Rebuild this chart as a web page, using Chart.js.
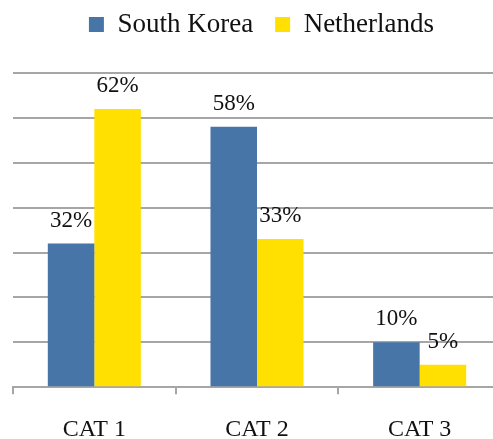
<!DOCTYPE html>
<html lang="en">
<head>
  <meta charset="UTF-8">
  <title>South Korea vs Netherlands</title>
  <script src="https://cdn.jsdelivr.net/npm/chart.js"></script>
  <style>
    html, body { margin: 0; padding: 0; background: #fff; overflow: hidden; }
    #wrap { position: relative; width: 502px; height: 478px; margin-top: -13px; }
  </style>
</head>
<body>
  <div id="wrap"><canvas id="barChart"></canvas></div>

  <script>
    const categories = ["CAT 1", "CAT 2", "CAT 3"];
    const southKorea = [32, 58, 10];
    const netherlands = [62, 33, 5];

    const serif = "'Liberation Serif', 'Times New Roman', serif";
    const gridColor = '#a6a6a6';

    // percent label above every bar
    const barLabels = {
      id: 'barLabels',
      afterDatasetsDraw(chart) {
        const ctx = chart.ctx;
        ctx.save();
        ctx.font = '23px ' + serif;
        ctx.fillStyle = '#111';
        ctx.textAlign = 'center';
        ctx.textBaseline = 'alphabetic';
        chart.data.datasets.forEach((ds, i) => {
          chart.getDatasetMeta(i).data.forEach((bar, j) => {
            ctx.fillText(ds.data[j] + '%', bar.x, bar.y - 17);
          });
        });
        ctx.restore();
      }
    };

    // extra room between the legend and the plot, legend nudged right a bit
    const legendSpacer = {
      id: 'legendSpacer',
      beforeInit(chart) {
        const fit = chart.legend.fit;
        chart.legend.fit = function () {
          fit.call(this);
          this.height += 25;
        };
      },
      afterLayout(chart) {
        chart.legend.left += 9;
      }
    };

    const ctx = document.getElementById('barChart').getContext('2d');
    new Chart(ctx, {
      type: 'bar',
      data: {
        labels: categories,
        datasets: [
          { label: 'South Korea', data: southKorea, backgroundColor: '#4775a7' },
          { label: 'Netherlands', data: netherlands, backgroundColor: '#ffe000' }
        ]
      },
      options: {
        responsive: true,
        maintainAspectRatio: false,
        animation: false,
        categoryPercentage: 0.572,
        barPercentage: 1.0,
        layout: { padding: { left: 13, right: 1, top: 2, bottom: 0 } },
        plugins: {
          tooltip: { enabled: false },
          legend: {
            position: 'top',
            labels: {
              boxWidth: 15,
              boxHeight: 15,
              padding: 22,
              color: '#111',
              font: { family: serif, size: 27 }
            }
          }
        },
        scales: {
          x: {
            grid: {
              drawOnChartArea: false,
              drawTicks: true,
              tickLength: 7,
              color: gridColor,
              lineWidth: 2
            },
            border: { display: true, color: gridColor, width: 2 },
            ticks: {
              color: '#111',
              padding: 21,
              font: { family: serif, size: 24 }
            }
          },
          y: {
            min: 0,
            max: 70,
            ticks: { display: false, stepSize: 10 },
            border: { display: false },
            grid: { color: gridColor, lineWidth: 2, drawTicks: false }
          }
        }
      },
      plugins: [barLabels, legendSpacer]
    });
  </script>
</body>
</html>
